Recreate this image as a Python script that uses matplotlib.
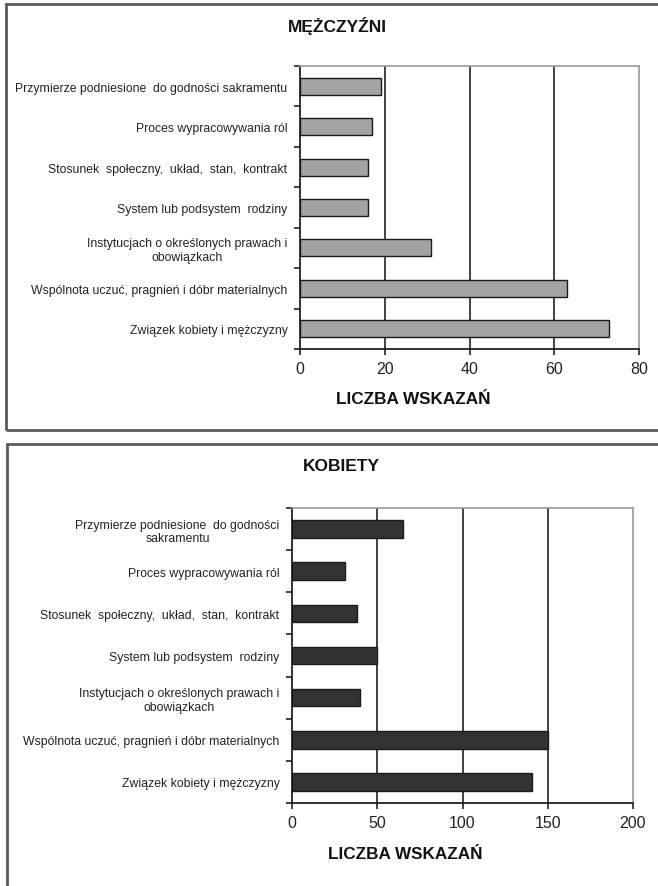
import matplotlib
matplotlib.use("Agg")
import matplotlib.pyplot as plt
from matplotlib.patches import Rectangle
import numpy as np

plt.rcParams['font.family'] = ['Liberation Sans', 'DejaVu Sans']

# categories, listed top to bottom as in the chart
labels_m = [
    "Przymierze podniesione  do godności sakramentu",
    "Proces wypracowywania ról",
    "Stosunek  społeczny,  układ,  stan,  kontrakt",
    "System lub podsystem  rodziny",
    "Instytucjach o określonych prawach i\nobowiązkach",
    "Wspólnota uczuć, pragnień i dóbr materialnych",
    "Związek kobiety i mężczyzny",
]
labels_k = [
    "Przymierze podniesione  do godności\nsakramentu",
    "Proces wypracowywania ról",
    "Stosunek  społeczny,  układ,  stan,  kontrakt",
    "System lub podsystem  rodziny",
    "Instytucjach o określonych prawach i\nobowiązkach",
    "Wspólnota uczuć, pragnień i dóbr materialnych",
    "Związek kobiety i mężczyzny",
]
values_m = [19, 17, 16, 16, 31, 63, 73]
values_k = [65, 31, 38, 50, 40, 150, 141]

xticks_m = [0, 20, 40, 60, 80]
xticks_k = [0, 50, 100, 150, 200]

W, H = 658, 887
fig = plt.figure(figsize=(W / 100, H / 100), dpi=100)

# outer frames around each panel
for (x0, y0, x1, y1) in [(6, 5, 700, 431), (7, 445, 700, 920)]:
    fig.patches.append(Rectangle((x0 / W, 1 - y1 / H), (x1 - x0) / W, (y1 - y0) / H,
                                 transform=fig.transFigure, fill=False,
                                 edgecolor='#5a5a5a', linewidth=2))


def panel(rect, labels, values, xticks, color, title, title_xy, xlabel_xy):
    ax = fig.add_axes(rect)
    y = np.arange(len(labels))
    ax.barh(y, values, height=0.42, color=color, edgecolor='#1a1a1a', linewidth=1.0, zorder=3)
    ax.set_ylim(len(labels) - 0.5, -0.5)
    ax.set_xlim(xticks[0], xticks[-1])
    ax.set_xticks(xticks)
    ax.set_xticklabels([str(t) for t in xticks], fontsize=11.5, color='#222222')
    ax.set_yticks(y)
    ax.set_yticklabels(labels, fontsize=8.8, multialignment='center', color='#222222')
    ax.set_yticks(np.arange(len(labels) + 1) - 0.5, minor=True)
    ax.tick_params(axis='y', which='major', length=0, pad=9)
    ax.tick_params(axis='y', which='minor', length=4, width=1.2, color='#222222')
    ax.tick_params(axis='x', length=4, width=1.2, color='#222222', pad=5)
    for t in xticks[1:-1]:
        ax.axvline(t, color='#222222', linewidth=1.2, zorder=2)
    for s in ['left', 'bottom']:
        ax.spines[s].set_color('#222222')
        ax.spines[s].set_linewidth(1.3)
    for s in ['top', 'right']:
        ax.spines[s].set_color('#999999')
        ax.spines[s].set_linewidth(1.2)
    fig.text(title_xy[0] / W, 1 - title_xy[1] / H, title, ha='center', va='center',
             fontsize=12.5, fontweight='bold', color='#111111')
    fig.text(xlabel_xy[0] / W, 1 - xlabel_xy[1] / H, "LICZBA WSKAZAŃ", ha='center', va='center',
             fontsize=12.3, fontweight='bold', color='#111111')
    return ax


panel([300 / W, 1 - 350 / H, 339 / W, 283 / H], labels_m, values_m, xticks_m,
      '#a3a3a3', "MĘŻCZYŹNI", (337, 26), (413, 400))
panel([292 / W, 1 - 804 / H, 341 / W, 295 / H], labels_k, values_k, xticks_k,
      '#333333', "KOBIETY", (341, 467), (405, 855))

fig.savefig("out.png", dpi=100)
